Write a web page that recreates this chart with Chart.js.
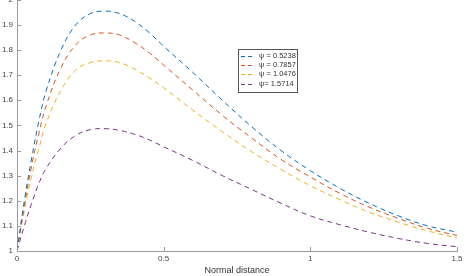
<!DOCTYPE html>
<html>
<head>
<meta charset="utf-8">
<script src="https://cdn.jsdelivr.net/npm/chart.js@4/dist/chart.umd.min.js"></script>
<style>
  html, body { margin: 0; padding: 0; background: #fff; }
  #wrap { position: relative; width: 468px; height: 276px; overflow: hidden; }
  #chart { position: absolute; left: 0; top: -9px; }
</style>
</head>
<body>
<div id="wrap"><canvas id="chart" width="468" height="285"></canvas></div>
<script>
// values
const xs = [0, 0.025, 0.05, 0.075, 0.1, 0.15, 0.2, 0.25, 0.3, 0.35, 0.4, 0.45, 0.5, 0.6, 0.7, 0.8, 0.9, 1.0, 1.1, 1.2, 1.3, 1.4, 1.5];
const psi1 = [1, 1.20, 1.37, 1.52, 1.64, 1.80, 1.90, 1.945, 1.955, 1.945, 1.915, 1.87, 1.815, 1.71, 1.60, 1.495, 1.40, 1.32, 1.25, 1.19, 1.14, 1.10, 1.075];
const psi2 = [1, 1.18, 1.34, 1.47, 1.58, 1.73, 1.82, 1.86, 1.868, 1.86, 1.83, 1.79, 1.74, 1.64, 1.54, 1.45, 1.365, 1.295, 1.23, 1.175, 1.13, 1.09, 1.062];
const psi3 = [1, 1.16, 1.30, 1.41, 1.51, 1.64, 1.72, 1.75, 1.757, 1.75, 1.725, 1.69, 1.65, 1.56, 1.475, 1.395, 1.325, 1.26, 1.205, 1.155, 1.115, 1.08, 1.052];
const psi4 = [1, 1.10, 1.19, 1.27, 1.33, 1.41, 1.46, 1.483, 1.487, 1.48, 1.465, 1.443, 1.415, 1.36, 1.30, 1.245, 1.19, 1.14, 1.105, 1.075, 1.05, 1.03, 1.017];
const seriesLabels = ['\u03c8 = 0.5238', '\u03c8 = 0.7857', '\u03c8 = 1.0476', '\u03c8= 1.5714'];
const seriesColors = ['#0072BD', '#D95319', '#EDB120', '#7E2F8E'];
const xTicks = [0, 0.5, 1, 1.5];

const FONT = 'Liberation Sans, Arial, sans-serif';

function mkSet(i, ys) {
  return {
    label: seriesLabels[i],
    data: xs.map((x, k) => ({ x: x, y: ys[k] })),
    borderColor: seriesColors[i],
    borderWidth: 1,
    borderDash: [5, 4],
    pointRadius: 0,
    fill: false,
    tension: 0.4
  };
}

// ticks pointing inward + legend box inside the axes
const matlabBits = {
  id: 'matlabBits',
  afterDraw(chart) {
    const ctx = chart.ctx;
    const xs_ = chart.scales.x, ys_ = chart.scales.y;
    const a = chart.chartArea;
    ctx.save();
    ctx.strokeStyle = '#9a9a9a';
    ctx.lineWidth = 1;
    ctx.beginPath();
    xs_.ticks.forEach(t => {
      const px = Math.round(xs_.getPixelForValue(t.value)) + 0.5;
      ctx.moveTo(px, a.bottom); ctx.lineTo(px, a.bottom - 4);
    });
    ys_.ticks.forEach(t => {
      const py = Math.round(ys_.getPixelForValue(t.value)) + 0.5;
      ctx.moveTo(a.left, py); ctx.lineTo(a.left + 4, py);
    });
    ctx.stroke();

    // legend
    const bx = 238, by = 49 + 9, bw = 59, bh = 43;
    ctx.fillStyle = '#fff';
    ctx.fillRect(bx, by, bw, bh);
    ctx.strokeStyle = '#555';
    ctx.strokeRect(bx + 0.5, by + 0.5, bw, bh);
    ctx.font = '7.5px ' + FONT;
    ctx.textBaseline = 'middle';
    chart.data.datasets.forEach((ds, i) => {
      const ly = by + 6.5 + i * 9.4;
      ctx.strokeStyle = ds.borderColor;
      ctx.setLineDash([4, 3]);
      ctx.beginPath();
      ctx.moveTo(bx + 3, Math.round(ly) + 0.5); ctx.lineTo(bx + 16, Math.round(ly) + 0.5);
      ctx.stroke();
      ctx.setLineDash([]);
      ctx.fillStyle = '#333';
      ctx.fillText(ds.label, bx + 21, ly);
    });
    ctx.restore();
  }
};

new Chart(document.getElementById('chart'), {
  type: 'line',
  data: { datasets: [mkSet(0, psi1), mkSet(1, psi2), mkSet(2, psi3), mkSet(3, psi4)] },
  options: {
    responsive: false,
    animation: false,
    layout: { padding: { right: 11, top: 0 } },
    plugins: { legend: { display: false }, tooltip: { enabled: false } },
    scales: {
      x: {
        type: 'linear', min: 0, max: 1.5,
        afterBuildTicks: s => { s.ticks = xTicks.map(v => ({ value: v })); },
        afterFit: s => { s.height = 25; },
        grid: { display: false, drawTicks: false },
        border: { display: true, color: '#9a9a9a' },
        ticks: { color: '#444', font: { family: FONT, size: 8 }, padding: 3, callback: v => String(v) },
        title: { display: true, text: 'Normal distance', color: '#333', font: { family: FONT, size: 9 }, padding: { top: 1, bottom: 0 } }
      },
      y: {
        min: 1, max: 2,
        afterFit: s => { s.width = 17; },
        grid: { display: false, drawTicks: false },
        border: { display: true, color: '#9a9a9a' },
        ticks: { stepSize: 0.1, color: '#444', font: { family: FONT, size: 8 }, padding: 4,
                 callback: v => String(Math.round(v * 10) / 10) }
      }
    }
  },
  plugins: [matlabBits]
});
</script>
</body>
</html>
